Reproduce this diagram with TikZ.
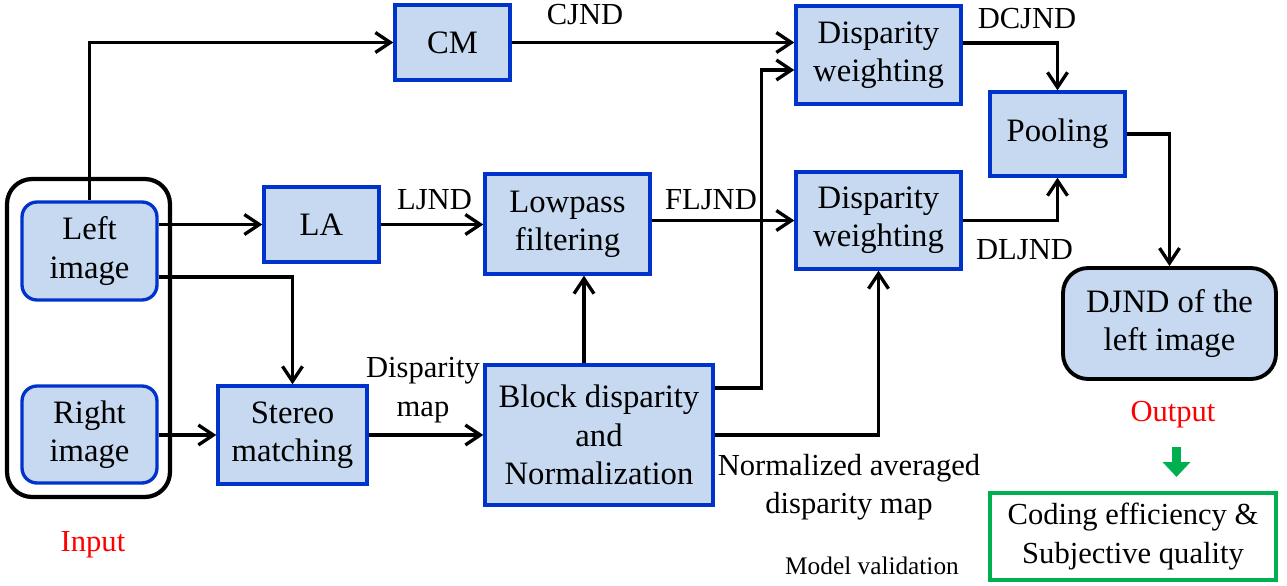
\documentclass[tikz,border=0pt]{standalone}
\usepackage{fontspec}
\setmainfont{Liberation Serif}
\usetikzlibrary{arrows.meta}

\definecolor{boxfill}{RGB}{198,217,240}
\definecolor{boxline}{RGB}{0,51,204}
\definecolor{valgreen}{RGB}{0,176,80}

\begin{document}
\begin{tikzpicture}[x=0.02cm, y=-0.02cm,
    blk/.style={draw=boxline, fill=boxfill, line width=1.9pt, align=center, inner sep=0pt, font=\fontsize{18.6}{21.8}\selectfont},
    rblk/.style={blk, rounded corners=0.3cm},
    lbl/.style={align=center, font=\fontsize{17.4}{21.8}\selectfont},
    arr/.style={line width=1.9pt, -{Straight Barb[length=0.3cm, width=0.4cm]}}]
    \useasboundingbox (0,0) rectangle (1287,585);

    \node[draw, line width=2.4pt, rounded corners=0.5cm, minimum width=3.26cm, minimum height=6.36cm] (in) at (88.5,338) {};
    \node[rblk, minimum width=2.7cm, minimum height=1.96cm] (left) at (89.5,251) {Left\\image};
    \node[rblk, minimum width=2.7cm, minimum height=1.94cm] (right) at (89.5,434.5) {Right\\image};
    \node[blk, minimum width=2.3cm, minimum height=1.5cm] (la) at (321.5,224.5) {LA};
    \node[blk, minimum width=2.98cm, minimum height=1.96cm] (sm) at (292.5,435) {Stereo\\matching};
    \node[blk, minimum width=2.3cm, minimum height=1.5cm] (cm) at (452.5,42.5) {CM};
    \node[blk, minimum width=3.3cm, minimum height=2cm] (lp) at (567.5,224) {Lowpass\\filtering};
    \node[blk, minimum width=4.56cm, minimum height=2.8cm] (bd) at (599,435) {Block disparity\\and\\Normalization};
    \node[blk, minimum width=3.3cm, minimum height=1.96cm] (dw1) at (878.5,55) {Disparity\\weighting};
    \node[blk, minimum width=3.3cm, minimum height=1.94cm] (dw2) at (878.5,220.5) {Disparity\\weighting};
    \node[blk, minimum width=2.7cm, minimum height=1.68cm] (pool) at (1057.5,134) {Pooling};
    \node[blk, draw=black, line width=2.2pt, rounded corners=0.5cm, minimum width=4.26cm, minimum height=2.22cm] (out) at (1169.5,323.5) {DJND of the\\left image};
    \node[lbl, draw=valgreen, line width=1.8pt, minimum width=5.72cm, minimum height=1.74cm, inner sep=0pt] (val) at (1133,536.5) {Coding efficiency \&\\Subjective quality};

    \draw[arr] (left.north) |- (cm.west);
    \draw[arr] (left.east |- la.west) -- (la.west);
    \draw[arr] ([yshift=-0.52cm]left.east) -| (sm.north);
    \draw[arr] (right.east |- sm.west) -- (sm.west);
    \draw[arr] (sm.east) -- (bd.west);
    \draw[arr] (la.east) -- (lp.west |- la.east);
    \draw[arr] ([xshift=-0.3cm]bd.north) -- ([xshift=-0.3cm]bd.north |- lp.south);
    \draw[arr] (cm.east) -- (dw1.west |- cm.east);
    \draw[arr] (lp.east |- dw2.west) -- (dw2.west);
    \draw[arr] ([yshift=0.94cm]bd.east) -| ([xshift=-0.66cm,yshift=-0.3cm]dw1.west) -- ([yshift=-0.3cm]dw1.west);
    \draw[arr] (bd.east) -| (dw2.south);
    \draw[arr] ([yshift=0.24cm]dw1.east) -| (pool.north);
    \draw[arr] (dw2.east) -| (pool.south);
    \draw[arr] (pool.east) -| (out.north);

    \node[lbl] (cjnd) at (585,15) {CJND};
    \node[lbl] (ljnd) at (434.5,200) {LJND};
    \node[lbl] (fljnd) at (711,200) {FLJND};
    \node[lbl] (dcjnd) at (1027,19) {DCJND};
    \node[lbl] (dljnd) at (1024.5,250) {DLJND};
    \node[lbl] (dmap) at (423,390) {Disparity\\map};
    \node[lbl] (nmap) at (849,487) {Normalized averaged\\disparity map};
    \node[font=\fontsize{14.4}{17}\selectfont] (mval) at (872,566) {Model validation};
    \node[lbl, text=red] (inlbl) at (93,545) {Input};
    \node[lbl, text=red] (outlbl) at (1173,415) {Output};

    \coordinate (g1) at (1176.5,447);
    \coordinate (g2) at (1176.5,477);
    \draw[valgreen, line width=0.18cm, -{Triangle[length=0.3cm, width=0.54cm]}] (g1) -- (g2);
\end{tikzpicture}
\end{document}
